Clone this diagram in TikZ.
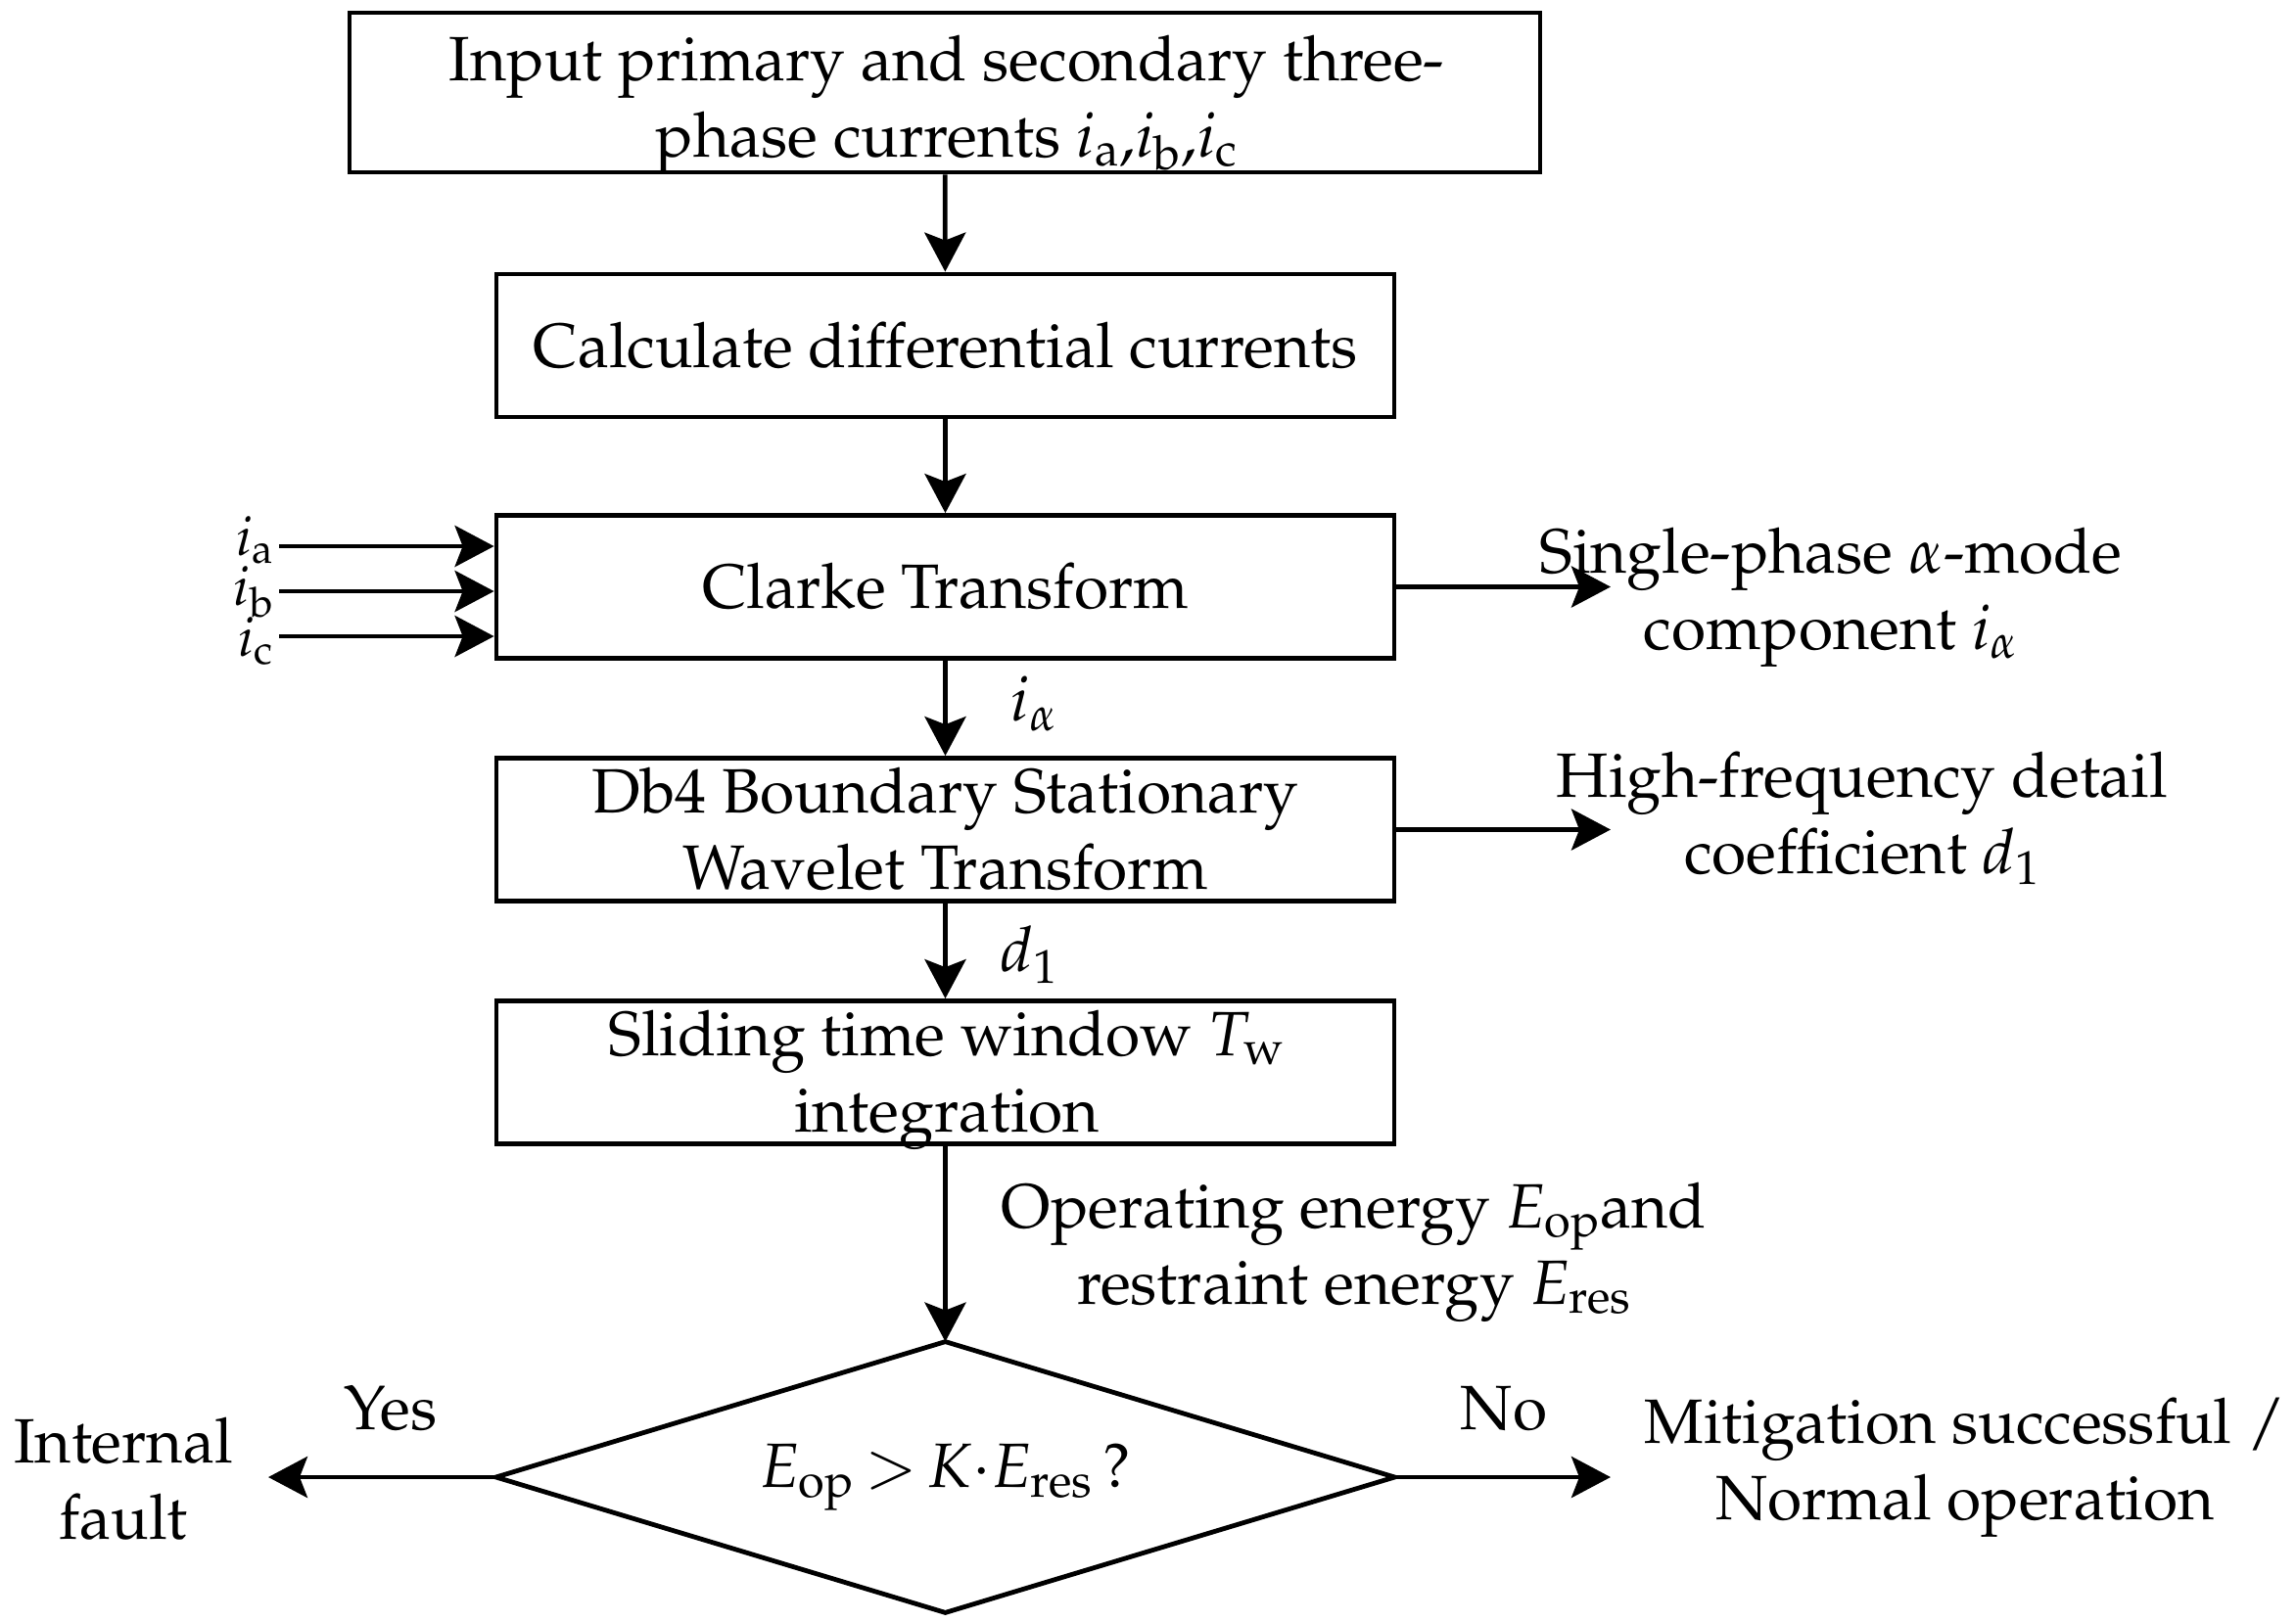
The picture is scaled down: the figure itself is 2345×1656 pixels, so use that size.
\documentclass[tikz,border=0pt]{standalone}
\usepackage[T1]{fontenc}
\usepackage{mathpazo}
\usetikzlibrary{arrows.meta}
\begin{document}
\begin{tikzpicture}[x=0.5pt,y=-0.5pt,
  txt/.style={font=\fontsize{32pt}{39pt}\selectfont, align=center, inner sep=0pt},
  proc/.style={txt, draw, line width=2.4pt, minimum width=458.5pt, minimum height=73pt},
  arr/.style={line width=2.4pt, -{Stealth[length=20pt,width=21pt,inset=4pt]}},
  dec/.style={txt, minimum width=458.5pt, minimum height=138pt, inner sep=0pt},
  ilab/.style={txt, anchor=east, font=\fontsize{28pt}{34pt}\selectfont}]
\useasboundingbox (0,0) rectangle (2345,1656);
\node[proc, minimum width=608pt, minimum height=81.5pt] (in) at (965,94.5) {};
\node[txt] (intext) at (967,107) {Input primary and secondary three-\\phase currents $i_{\mathrm{a}}$,$i_{\mathrm{b}}$,$i_{\mathrm{c}}$};
\node[proc] (calc) at (965.5,353) {Calculate differential currents};
\node[proc] (clarke) at (965.5,599.5) {Clarke Transform};
\node[proc] (db4) at (965.5,847.5) {Db4 Boundary Stationary\\Wavelet Transform};
\node[proc] (slide) at (965.5,1095.5) {};
\node[txt] (slidetext) at (967,1103) {Sliding time window $T_{\mathrm{w}}$\\integration};
\node[dec] (cmp) at (965.5,1509) {$E_{\mathrm{op}}\,{>}\,K{\cdot}E_{\mathrm{res}}$\,?};
\draw[line width=2.4pt, line join=miter] (cmp.west) -- (cmp.north) -- (cmp.east) -- (cmp.south) -- cycle;
\draw[arr] (in) -- (calc);
\draw[arr] (calc) -- (clarke);
\draw[arr] (clarke) -- (db4);
\draw[arr] (db4) -- (slide);
\draw[arr] (slide) -- (cmp.north);
% inputs
\coordinate (ia) at (285,558);
\coordinate (ib) at (285,604);
\coordinate (ic) at (285,650);
\node[ilab] (lia) at (280,552) {$i_{\mathrm{a}}$};
\node[ilab] (lib) at (280,605) {$i_{\mathrm{b}}$};
\node[ilab] (lic) at (280,655) {$i_{\mathrm{c}}$};
\draw[arr] (ia) -- (clarke.west |- ia);
\draw[arr] (ib) -- (clarke.west |- ib);
\draw[arr] (ic) -- (clarke.west |- ic);
% outputs
\coordinate (oa) at (1645,601);
\draw[arr] (clarke.east) -- (clarke.east -| oa);
\node[txt] (outa) at (1870,610) {Single-phase $\alpha$-mode\\component $i_{\alpha}$};
\coordinate (od) at (1645,849);
\draw[arr] (db4.east) -- (db4.east -| od);
\node[txt] (outd) at (1902,836) {High-frequency detail\\coefficient $d_1$};
\node[txt] (lalpha) at (1056,719) {$i_{\alpha}$};
\node[txt] (ld1) at (1051,975) {$d_1$};
\node[txt] (energy) at (1383,1279) {Operating energy $E_{\mathrm{op}}$and\\restraint energy $E_{\mathrm{res}}$};
% decision outputs
\coordinate (yes) at (274,1509);
\coordinate (no) at (1645,1509);
\draw[arr] (cmp.west) -- (yes);
\draw[arr] (cmp.east) -- (no);
\node[txt] (lyes) at (399,1439) {Yes};
\node[txt] (lno) at (1536,1439) {No};
\node[txt] (fault) at (126,1510) {Internal\\fault};
\node[txt] (normal) at (2007,1499) {Mitigation successful /\\Normal operation};
\end{tikzpicture}
\end{document}
